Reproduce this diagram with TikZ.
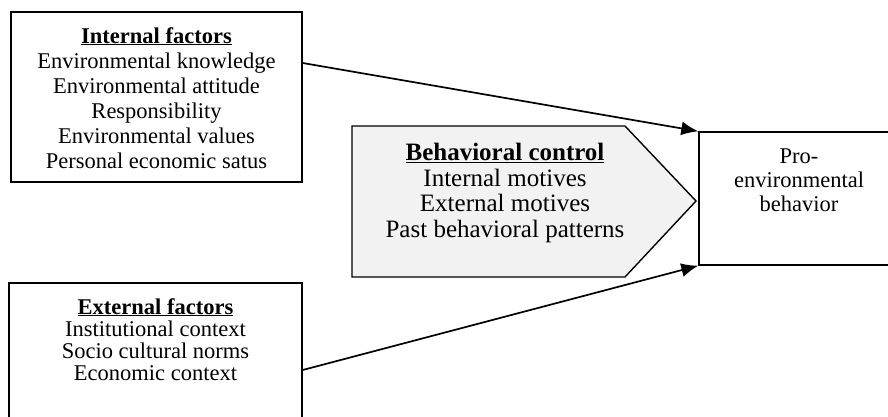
\documentclass[tikz,border=0pt]{standalone}
\usepackage{fontspec}
\setmainfont{Liberation Serif}
\usetikzlibrary{arrows.meta,positioning,calc}
\definecolor{ctrlgray}{HTML}{F2F2F2}
\tikzset{
	factorbox/.style={draw,line width=1.4pt,inner sep=0pt},
	factortext/.style={align=center,inner sep=0pt,font=\fontsize{22.5}{25}\selectfont},
	link/.style={-{Latex[length=17pt,width=14pt]},line width=1.7pt}
}
\newcommand{\headline}[1]{\underline{\textbf{#1}}}
\begin{document}
\begin{tikzpicture}[x=1pt,y=-1pt]
		\useasboundingbox (0,0) rectangle (888,416);
		\clip (0,0) rectangle (888,416);
		% factor boxes
		\node[factorbox,minimum width=291pt,minimum height=170pt] (intf) at (156.5,97) {};
		\node[factortext,anchor=north] (intflist) at (156.5,27) {\headline{Internal factors}\\Environmental knowledge\\Environmental attitude\\Responsibility\\Environmental values\\Personal economic satus};
		\node[factorbox,minimum width=293pt,minimum height=150pt] (extf) at (155.5,358) {};
		\node[factortext,anchor=north,font=\fontsize{22.5}{22}\selectfont] (extflist) at (155.5,298) {\headline{External factors}\\Institutional context\\Socio cultural norms\\Economic context};
		% behavioral control
		\draw[line width=1.4pt,fill=ctrlgray] (352,126) -- (625,126) -- (696,201) -- (625,277) -- (352,277) -- cycle;
		\node[factortext,anchor=north,font=\fontsize{25}{25.5}\selectfont] (ctrl) at (505,143) {\headline{Behavioral control}\\Internal motives\\External motives\\Past behavioral patterns};
		% outcome
		\node[factorbox,minimum width=200pt,minimum height=133pt] (pro) at (799,198.5) {};
		\node[factortext,anchor=north,font=\fontsize{22.5}{24}\selectfont] (prolabel) at (799,149) {Pro-\\environmental\\behavior};
		\draw[link] ([yshift=34pt]intf.east) -- (pro.north west);
		\draw[link] ([yshift=-12pt]extf.east) -- (pro.south west);
\end{tikzpicture}
\end{document}
